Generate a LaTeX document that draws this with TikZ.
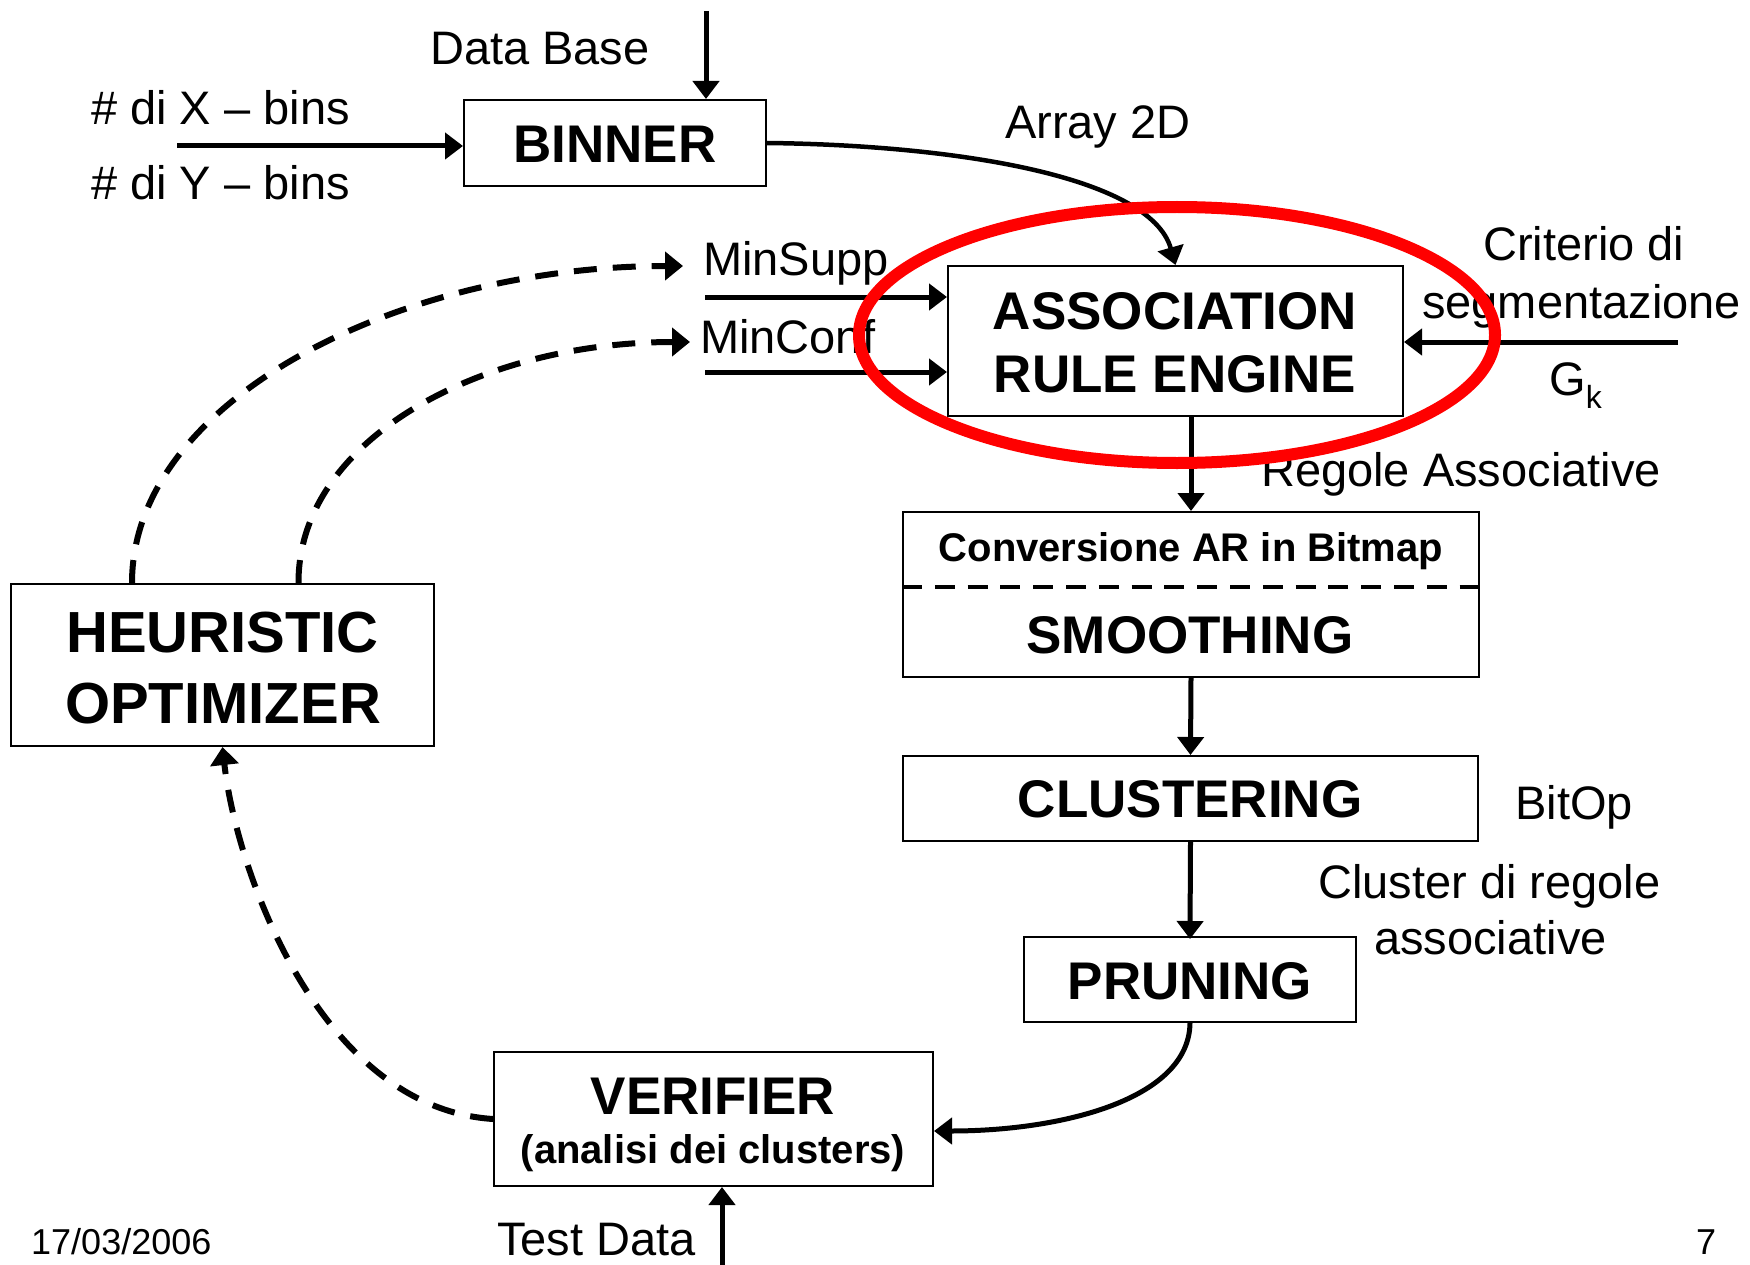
\documentclass[tikz,border=0pt]{standalone}
\usepackage{fontspec}
\setmainfont{Liberation Sans}
\usetikzlibrary{arrows.meta}

\begin{document}
\begin{tikzpicture}[x=1pt,y=-1pt,
  box/.style={draw, line width=2pt, inner sep=0pt},
  lbl/.style={font=\fontsize{47}{52}\selectfont, inner sep=0pt, anchor=base west},
  title/.style={font=\bfseries\fontsize{53}{60}\selectfont, inner sep=0pt, anchor=base},
  bigtitle/.style={font=\bfseries\fontsize{58}{64}\selectfont, inner sep=0pt, anchor=base},
  subtitle/.style={font=\bfseries\fontsize{40}{46}\selectfont, inner sep=0pt, anchor=base},
  foot/.style={font=\fontsize{36}{40}\selectfont, inner sep=0pt, anchor=base west},
  flow/.style={line width=5pt, -{Triangle[length=18pt,width=26pt]}},
  feedback/.style={line width=6pt, dash pattern=on 23pt off 16pt,
                   -{Triangle[length=18pt,width=28pt]}},
  divider/.style={line width=3.5pt, dash pattern=on 20pt off 12.8pt},
  focus/.style={draw=red, line width=12pt}]

% page background and extent
\useasboundingbox (0,0) rectangle (1750,1265);
\fill[white] (0,0) rectangle (1750,1265);

% processing blocks
\node[box, minimum width=302pt, minimum height=86pt]  (binner)    at (615,143)    {};
\node[box, minimum width=455pt, minimum height=150pt] (assoc)     at (1175.5,341) {};
\node[box, minimum width=576pt, minimum height=165pt] (smooth)    at (1191,594.5) {};
\node[box, minimum width=575pt, minimum height=85pt]  (cluster)   at (1190.5,798.5) {};
\node[box, minimum width=332pt, minimum height=85pt]  (prune)     at (1190,979.5) {};
\node[box, minimum width=439pt, minimum height=134pt] (verifier)  at (713.5,1119) {};
\node[box, minimum width=423pt, minimum height=162pt] (heuristic) at (222.5,665)  {};

% block titles
\node[title] (tbinner) at (615,163) {BINNER};
\node[title] (tassoc1) at (1175,329) {ASSOCIATION};
\node[title] (tassoc2) at (1175,392) {RULE ENGINE};
\node[subtitle] (tconv) at (1191,561) {Conversione AR in Bitmap};
\node[title] (tsmooth) at (1190,653) {SMOOTHING};
\node[title] (tcluster) at (1190,817) {CLUSTERING};
\node[title] (tprune) at (1190,999) {PRUNING};
\node[title] (tverif) at (713,1114) {VERIFIER};
\node[subtitle] (tverif2) at (713,1163) {(analisi dei clusters)};
\node[bigtitle] (theur1) at (222.5,652) {HEURISTIC};
\node[bigtitle] (theur2) at (223,723) {OPTIMIZER};

% dashed split inside the smoothing block
\coordinate (divy) at (0,587);
\draw[divider] (smooth.west |- divy) -- (smooth.east |- divy);

% free labels
\node[lbl] (ldb)    at (430,65)   {Data Base};
\node[lbl] (lxbins) at (91,125)   {\# di X -- bins};
\node[lbl] (lybins) at (91,200)   {\# di Y -- bins};
\node[lbl] (larr)   at (1005,139) {Array 2D};
\node[lbl] (lsupp)  at (703,276)  {MinSupp};
\node[lbl] (lconf)  at (700,353)  {MinConf};
\node[lbl] (lcrit)  at (1483,261) {Criterio di};
\node[lbl] (lseg)   at (1422,318) {segmentazione};
\node[lbl] (lgk)    at (1549,395) {G\raisebox{-13pt}{\fontsize{32}{34}\selectfont k}};
\node[lbl] (lreg)   at (1261,486) {Regole Associative};
\node[lbl] (lbit)   at (1515,819) {BitOp};
\node[lbl] (lcl1)   at (1318,898) {Cluster di regole};
\node[lbl] (lcl2)   at (1374,954) {associative};
\node[lbl] (ltest)  at (497,1255) {Test Data};
\node[foot] (ldate) at (31,1254)  {17/03/2006};
\node[foot] (lpage) at (1696,1254) {7};

% free ends of the input connectors
\coordinate (dbtop)  at (706,11);
\coordinate (binsin) at (177,146);
\coordinate (msin)   at (705,297);
\coordinate (mcin)   at (705,372);
\coordinate (gkin)   at (1678,342);
\coordinate (tdbot)  at (722,1270);
\coordinate (msend)  at (683,266);
\coordinate (mcend)  at (690,342);

% inputs
\draw[flow] (dbtop) -- (dbtop |- binner.north);
\draw[flow] (binsin) -- (binsin -| binner.west);
\draw[flow] (msin) -- (msin -| assoc.west);
\draw[flow] (mcin) -- (mcin -| assoc.west);
\draw[flow] (gkin) -- (gkin -| assoc.east);
\draw[flow] (tdbot) -- (tdbot |- verifier.south);

% main pipeline
\draw[flow, line width=4.5pt] (binner.east) .. controls (950,145) and (1150,175) .. (assoc.north);
\draw[flow] (smooth.north |- assoc.south) -- (smooth.north);
\draw[flow] (smooth.south) -- (cluster.north);
\draw[flow] (cluster.south) -- ([yshift=-3pt]prune.north);
\draw[flow] (prune.south) .. controls (1189,1100) and (1060,1131) .. ([yshift=-12pt]verifier.east);

% feedback loop
\draw[feedback] (verifier.west) .. controls (320,1108) and (236,870) .. (heuristic.south);
\draw[feedback] ([xshift=-90.5pt]heuristic.north) .. controls (132,400) and (400,266) .. (msend);
\draw[feedback] ([xshift=76pt]heuristic.north) .. controls (298,440) and (480,342) .. (mcend);

% highlight around the rule engine
\draw[focus] (1177,335) ellipse [x radius=318, y radius=128];

\end{tikzpicture}
\end{document}
